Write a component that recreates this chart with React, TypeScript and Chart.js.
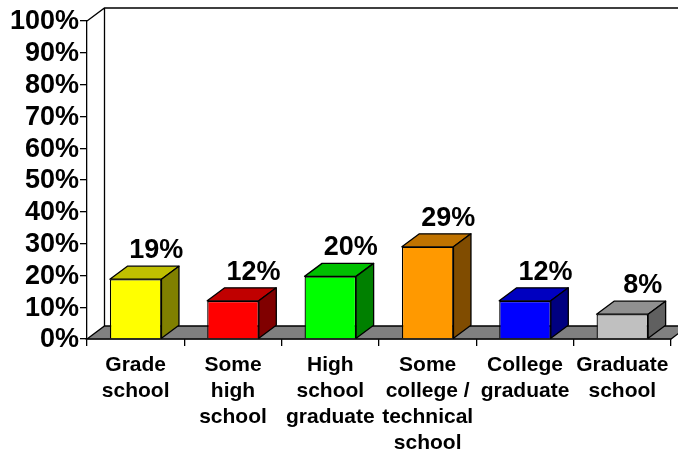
import React, { useEffect, useRef } from "react";
import { Chart, registerables } from "chart.js";

Chart.register(...registerables);

const categories = [
  ["Grade", "school"],
  ["Some", "high", "school"],
  ["High", "school", "graduate"],
  ["Some", "college /", "technical", "school"],
  ["College", "graduate"],
  ["Graduate", "school"],
];
const values = [18.8, 12, 19.7, 29, 12, 7.8];
const valueLabels = ["19%", "12%", "20%", "29%", "12%", "8%"];
const frontColors = ["#FFFF00", "#FF0000", "#00FF00", "#FF9900", "#0000FF", "#C0C0C0"];
const topColors = ["#C0C000", "#C00000", "#00C000", "#C07300", "#0000C0", "#909090"];
const sideColors = ["#808000", "#800000", "#008000", "#804C00", "#000080", "#606060"];

const DX = 17.5;
const DY = 13;
const FONT = "'Liberation Sans', Arial, sans-serif";

function poly(ctx: CanvasRenderingContext2D, pts: number[][], fill: string) {
  ctx.beginPath();
  pts.forEach((p, i) => (i ? ctx.lineTo(p[0], p[1]) : ctx.moveTo(p[0], p[1])));
  ctx.closePath();
  ctx.fillStyle = fill;
  ctx.fill();
  ctx.stroke();
}

const box3d = {
  id: "box3d",
  beforeDatasetsDraw(chart: any) {
    const { ctx, chartArea: a } = chart;
    ctx.save();
    ctx.strokeStyle = "#000";
    ctx.lineWidth = 1.3;
    poly(ctx, [[a.left, a.bottom], [a.left + DX, a.bottom - DY], [a.right + DX, a.bottom - DY], [a.right, a.bottom]], "#808080");
    ctx.beginPath();
    ctx.moveTo(a.left, a.top);
    ctx.lineTo(a.left + DX, a.top - DY);
    ctx.lineTo(a.right + DX, a.top - DY);
    ctx.moveTo(a.left + DX, a.top - DY);
    ctx.lineTo(a.left + DX, a.bottom - DY);
    ctx.stroke();
    ctx.restore();
  },
  afterDatasetsDraw(chart: any) {
    const { ctx } = chart;
    const bars = chart.getDatasetMeta(0).data;
    ctx.save();
    ctx.strokeStyle = "#000";
    ctx.lineWidth = 1.3;
    ctx.lineJoin = "round";
    bars.forEach((b: any, i: number) => {
      const l = b.x - b.width / 2;
      const r = b.x + b.width / 2;
      const t = b.y;
      const bot = b.base;
      poly(ctx, [[l, t], [l + DX, t - DY], [r + DX, t - DY], [r, t]], topColors[i]);
      poly(ctx, [[r, t], [r + DX, t - DY], [r + DX, bot - DY], [r, bot]], sideColors[i]);
      ctx.fillStyle = "#000";
      ctx.font = `bold 27px ${FONT}`;
      ctx.textAlign = "center";
      ctx.textBaseline = "alphabetic";
      ctx.fillText(valueLabels[i], b.x + 20.5, t - 21);
    });
    ctx.restore();
  },
};

export default function App() {
  const ref = useRef<HTMLCanvasElement>(null);
  useEffect(() => {
    const chart = new Chart(ref.current!, {
      type: "bar",
      data: {
        labels: categories,
        datasets: [
          {
            data: values,
            backgroundColor: frontColors,
            borderColor: "#000",
            borderWidth: 1.3,
            barPercentage: 0.53,
            categoryPercentage: 1,
          },
        ],
      },
      options: {
        animation: false,
        responsive: false,
        devicePixelRatio: 1,
        layout: { padding: { top: 21, right: 7, left: 0, bottom: 0 } },
        plugins: { legend: { display: false }, tooltip: { enabled: false } },
        scales: {
          x: {
            afterFit: (s: any) => { s.height = 114; },
            border: { color: "#000", width: 1.3 },
            grid: { display: true, drawOnChartArea: false, color: "#000", tickLength: 7, lineWidth: 1.3, offset: true },
            ticks: {
              color: "#000",
              font: { family: FONT, weight: "bold", size: 21, lineHeight: 1.24 },
              maxRotation: 0,
              minRotation: 0,
              autoSkip: false,
              padding: 6,
            },
          },
          y: {
            min: 0,
            max: 100,
            afterFit: (s: any) => { s.width = 87; },
            border: { color: "#000", width: 1.3 },
            grid: { display: true, drawOnChartArea: false, color: "#000", tickLength: 7, lineWidth: 1.3 },
            ticks: {
              stepSize: 10,
              autoSkip: false,
              color: "#000",
              font: { family: FONT, weight: "bold", size: 27 },
              padding: 1,
              labelOffset: 1,
              callback: (v: any) => `${v}%`,
            },
          },
        },
      },
      plugins: [box3d],
    } as any);
    return () => chart.destroy();
  }, []);
  return (
    <div style={{ position: "absolute", left: 0, top: 0, width: 678, height: 453, background: "#fff" }}>
      <canvas ref={ref} width={678} height={453} style={{ display: "block" }} />
    </div>
  );
}
